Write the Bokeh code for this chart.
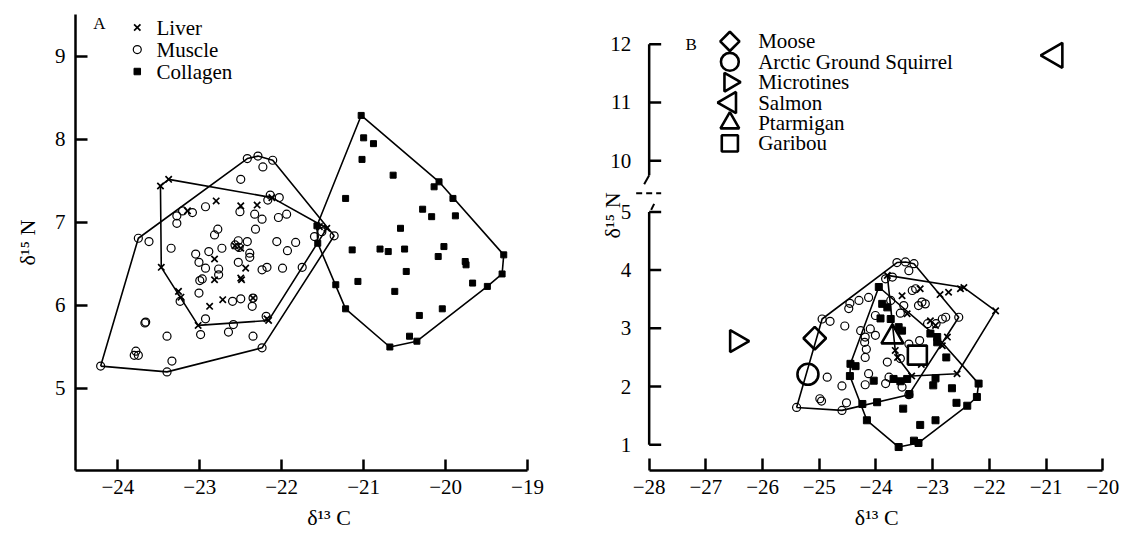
import math
from bokeh.plotting import figure
from bokeh.models import Range1d, FixedTicker, Title
from bokeh.layouts import row
from bokeh.embed import file_html
from bokeh.resources import INLINE
from bokeh.core.properties import value

FONT = "Liberation Serif"
MINUS = "\u2212"

# ---------------- Panel A data (delta13C, delta15N) ----------------
liver_a_x = [-23.48, -23.38, -23.15, -22.80, -22.50, -22.30, -22.12, -21.54, -21.45, -22.57,
             -22.50, -22.82, -23.47, -22.44, -22.82, -22.49, -22.50, -23.26, -23.23, -22.88,
             -22.72, -22.35, -23.02, -22.18, -22.16]
liver_a_y = [7.44, 7.52, 7.14, 7.26, 7.20, 7.21, 7.30, 6.95, 6.93, 6.72,
             6.69, 6.56, 6.46, 6.45, 6.31, 6.31, 6.33, 6.17, 6.10, 5.99,
             6.07, 6.09, 5.76, 5.84, 5.82]

muscle_a_x = [-22.42, -22.29, -22.11, -22.23, -22.50, -22.14, -22.03, -22.17, -22.93, -23.21,
              -23.09, -23.28, -23.28, -22.51, -22.33, -22.24, -22.04, -21.94, -22.32, -22.78,
              -22.82, -23.75, -23.62, -23.35, -22.73, -22.53, -22.42, -22.57, -22.52, -22.39,
              -22.39, -22.06, -21.93, -23.05, -22.89, -23.01, -22.93, -22.77, -22.53, -22.18,
              -21.99, -22.24, -21.75, -23.00, -22.97, -22.77, -23.01, -23.24, -22.60, -22.50,
              -22.36, -22.35, -22.93, -22.59, -22.65, -22.99, -22.35, -22.19, -23.67, -23.66,
              -23.40, -23.78, -23.80, -23.75, -23.34, -24.21, -23.40, -22.24, -21.83, -21.60,
              -21.51, -21.36]
muscle_a_y = [7.77, 7.80, 7.75, 7.67, 7.52, 7.33, 7.30, 7.27, 7.19, 7.14,
              7.12, 7.08, 6.99, 7.13, 7.10, 7.04, 7.06, 7.10, 6.92, 6.92,
              6.85, 6.81, 6.77, 6.69, 6.69, 6.78, 6.77, 6.73, 6.70, 6.63,
              6.58, 6.77, 6.66, 6.62, 6.65, 6.52, 6.45, 6.44, 6.52, 6.46,
              6.45, 6.43, 6.46, 6.30, 6.32, 6.37, 6.15, 6.05, 6.05, 6.08,
              5.99, 6.09, 5.84, 5.77, 5.68, 5.65, 5.63, 5.87, 5.79, 5.80,
              5.63, 5.45, 5.40, 5.40, 5.33, 5.27, 5.20, 5.49, 6.76, 6.83,
              6.89, 6.84]

collagen_a_x = [-21.03, -21.00, -20.88, -21.02, -20.64, -21.22, -20.08, -20.14, -19.91, -20.28,
                -20.17, -19.88, -20.55, -21.14, -20.80, -20.70, -20.50, -20.02, -20.09, -19.76,
                -19.75, -19.29, -19.31, -20.48, -21.57, -21.56, -21.34, -21.07, -20.62, -21.22,
                -20.32, -20.04, -19.67, -19.49, -20.44, -20.35, -20.68]
collagen_a_y = [8.29, 8.02, 7.95, 7.76, 7.57, 7.29, 7.49, 7.43, 7.29, 7.16,
                7.07, 7.08, 6.93, 6.67, 6.68, 6.65, 6.68, 6.71, 6.59, 6.53,
                6.49, 6.61, 6.38, 6.41, 6.96, 6.75, 6.25, 6.29, 6.17, 5.96,
                5.88, 5.96, 6.27, 6.23, 5.63, 5.57, 5.50]

# ---------------- Panel B data ----------------
liver_b_x = [-23.80, -23.54, -23.22, -22.87, -22.72, -22.51, -22.45, -21.89, -23.04, -22.95,
             -22.74, -22.83, -23.66, -23.62, -22.57, -23.37, -23.20, -23.45]
liver_b_y = [3.91, 3.56, 3.68, 3.58, 3.62, 3.68, 3.70, 3.30, 3.13, 3.05,
             2.85, 2.70, 2.62, 2.50, 2.22, 2.18, 2.38, 3.25]

muscle_b_x = [-23.63, -23.48, -23.33, -23.42, -23.71, -23.83, -24.95, -24.81, -24.55, -24.48,
              -24.46, -24.30, -24.13, -24.01, -24.27, -24.19, -24.10, -24.01, -23.36, -23.30,
              -23.19, -23.13, -23.25, -23.51, -23.74, -22.83, -22.77, -22.54, -23.57, -23.09,
              -22.94, -23.42, -23.23, -24.20, -24.17, -24.86, -24.60, -24.99, -24.96, -24.52,
              -24.60, -25.40, -24.19, -24.13, -24.19, -23.80, -23.77, -23.83, -23.57, -23.54,
              -23.42]
muscle_b_y = [4.13, 4.14, 4.11, 3.99, 3.88, 3.85, 3.16, 3.12, 3.04, 3.34,
              3.43, 3.48, 3.53, 3.22, 2.96, 2.85, 2.99, 2.88, 3.65, 3.68,
              3.45, 3.42, 3.39, 3.39, 3.48, 3.16, 3.19, 3.19, 3.26, 3.08,
              3.08, 2.73, 2.79, 2.76, 2.64, 2.16, 2.01, 1.79, 1.75, 1.72,
              1.59, 1.64, 2.50, 2.22, 2.03, 2.42, 2.16, 2.05, 2.48, 1.99,
              1.86]

collagen_b_x = [-23.95, -23.89, -23.80, -23.92, -23.74, -23.60, -23.54, -23.04, -22.92, -22.92,
                -22.76, -24.45, -24.36, -24.46, -24.04, -23.69, -23.57, -23.45, -23.41, -23.52,
                -24.24, -23.98, -24.16, -23.60, -23.33, -23.25, -23.22, -22.95, -22.99, -22.95,
                -22.66, -22.58, -22.39, -22.22, -22.19]
collagen_b_y = [3.71, 3.42, 3.36, 3.17, 3.16, 3.02, 2.96, 2.91, 2.85, 2.76,
                2.50, 2.39, 2.35, 2.18, 2.10, 2.13, 2.09, 2.13, 1.87, 1.62,
                1.70, 1.73, 1.42, 0.96, 1.07, 1.03, 1.34, 1.42, 2.02, 2.14,
                1.97, 1.72, 1.67, 1.82, 2.05]

species = ["Moose", "Arctic Ground Squirrel", "Microtines", "Salmon", "Ptarmigan", "Garibou"]
species_x = [-25.08, -25.20, -26.46, -20.84, -23.71, -23.27]
species_y = [2.83, 2.21, 2.78, 11.81, 2.85, 2.54]

tissues = ["Liver", "Muscle", "Collagen"]

xticks_a = [-24, -23, -22, -21, -20, -19]
yticks_a = [5, 6, 7, 8, 9]
xticks_b = [-28, -27, -26, -25, -24, -23, -22, -21, -20]
yticks_b = [1, 2, 3, 4, 5, 10, 11, 12]

x_title = "\u03b4\u00b9\u00b3 C"
y_title = "\u03b4\u00b9\u2075 N"

# ---------------- styles / layout ----------------
species_marker = ["square", "circle", "triangle", "triangle", "triangle", "square"]
species_angle = [math.pi / 4, 0.0, -math.pi / 2, math.pi / 2, 0.0, 0.0]
species_size = [16, 21, 22, 25, 22, 19]

B_SHIFT = 4.12      # vertical shift applied above the axis break
B_BREAK_LO = 5.0
B_BREAK_HI = 9.75

# em/en/thin spaces used to push a centred axis title to the right
PAD_A = "\u2003\u2003\u2002"
PAD_B = "\u2003\u2003\u2009"


def tb(v):
    return v if v < 7 else v - B_SHIFT


def fmt(t):
    return (MINUS + str(abs(t))) if t < 0 else str(t)


def hull(xs, ys):
    pts = sorted(set(zip(xs, ys)))

    def cross(o, a, b):
        return (a[0] - o[0]) * (b[1] - o[1]) - (a[1] - o[1]) * (b[0] - o[0])

    lower, upper = [], []
    for p in pts:
        while len(lower) >= 2 and cross(lower[-2], lower[-1], p) <= 0:
            lower.pop()
        lower.append(p)
    for p in reversed(pts):
        while len(upper) >= 2 and cross(upper[-2], upper[-1], p) <= 0:
            upper.pop()
        upper.append(p)
    h = lower[:-1] + upper[:-1]
    h.append(h[0])
    return [p[0] for p in h], [p[1] for p in h]


def style_axis(ax, tick_in=11):
    ax.axis_line_width = 2.5
    ax.axis_line_color = "black"
    ax.major_tick_line_width = 2.5
    ax.major_tick_line_color = "black"
    ax.major_tick_in = tick_in
    ax.major_tick_out = 0
    ax.minor_tick_line_color = None
    ax.major_label_text_font = FONT
    ax.major_label_text_font_size = "21px"
    ax.major_label_text_color = "black"


def base_fig(width, xr, yr, left, right, **kw):
    p = figure(width=width, height=536, x_range=Range1d(*xr), y_range=Range1d(*yr),
               output_backend="svg", toolbar_location=None,
               min_border_left=left, min_border_right=right,
               min_border_top=14, min_border_bottom=66, **kw)
    p.grid.visible = False
    p.outline_line_color = None
    p.background_fill_color = "white"
    p.border_fill_color = "white"
    return p


def make_title(text, offset, standoff):
    return Title(text=text, align="center", offset=offset, standoff=standoff,
                 text_font=FONT, text_font_size="22px", text_font_style="normal",
                 text_color="black")


def draw_points(p, lx, ly, mx, my, cx, cy, sq=6):
    p.scatter(cx, cy, marker="square", size=sq, fill_color="black", line_color="black")
    p.scatter(mx, my, marker="circle", size=8, fill_color=None, line_color="black", line_width=1.2)
    p.scatter(lx, ly, marker="x", size=9, line_color="black", line_width=1.7)


def draw_hulls(p, groups):
    for gx, gy in groups:
        hx, hy = hull(gx, gy)
        p.line(hx, hy, line_color="black", line_width=1.6)


# ================= Panel A =================
pA = base_fig(575, (-24.517, -19.0), (4.012, 9.506), 73, 48)
style_axis(pA.xaxis[0], 11)
style_axis(pA.yaxis[0], 12)
pA.xaxis.ticker = FixedTicker(ticks=xticks_a)
pA.xaxis.major_label_overrides = {t: fmt(t) for t in xticks_a}
pA.xaxis.major_label_standoff = 9
pA.yaxis.ticker = FixedTicker(ticks=yticks_a)
pA.yaxis.major_label_overrides = {t: fmt(t) for t in yticks_a}
pA.yaxis.major_label_standoff = 10

draw_points(pA, liver_a_x, liver_a_y, muscle_a_x, muscle_a_y, collagen_a_x, collagen_a_y, sq=6)
draw_hulls(pA, [(liver_a_x, liver_a_y), (muscle_a_x, muscle_a_y), (collagen_a_x, collagen_a_y)])

# legend A (manual)
leg_a_mx, leg_a_tx, leg_a_y0, leg_a_dy = -23.763, -23.528, 9.349, 0.265
rows_a = [leg_a_y0 - i * leg_a_dy for i in range(3)]
pA.scatter([leg_a_mx], [rows_a[0]], marker="x", size=9, line_color="black", line_width=1.7)
pA.scatter([leg_a_mx], [rows_a[1]], marker="circle", size=8, fill_color=None, line_color="black", line_width=1.2)
pA.scatter([leg_a_mx], [rows_a[2]], marker="square", size=6.5, fill_color="black", line_color="black")
pA.text(x=[leg_a_tx] * 3, y=rows_a, text=tissues, text_font=value(FONT),
        text_font_size=value("21px"), text_baseline="middle", text_align="left", text_color="black")
pA.text(x=[-24.30], y=[9.40], text=["A"], text_font=value(FONT), text_font_size=value("17px"),
        text_baseline="middle", text_align="left", text_color="black")

pA.add_layout(make_title(PAD_A + x_title, 0, 13), "below")
pA.add_layout(make_title(y_title, 19, 24), "left")

# ================= Panel B =================
xb0, xb1 = -28.929, -19.899
yb0, yb1 = 0.557, 8.392
FW_B, FH_B = 512, 456
pB = base_fig(559, (xb0, xb1), (yb0, yb1), 21, 26, y_axis_location=None)
style_axis(pB.xaxis[0], 12)
pB.xaxis.ticker = FixedTicker(ticks=xticks_b)
pB.xaxis.major_label_overrides = {t: fmt(t) for t in xticks_b}
pB.xaxis.major_label_standoff = 9
pB.xaxis.bounds = (xticks_b[0], xticks_b[-1])
pB.add_layout(make_title(PAD_B + x_title, 0, 13), "below")

px_per_x = FW_B / (xb1 - xb0)
px_per_y = FH_B / (yb1 - yb0)

# broken y axis: spine, inward ticks, labels, title
yb_t = [tb(v) for v in yticks_b]
spine_x = xticks_b[0]
tick_len = 12 / px_per_x
pB.segment(x0=[spine_x, spine_x], y0=[yticks_b[0], tb(B_BREAK_HI)],
           x1=[spine_x, spine_x], y1=[B_BREAK_LO, tb(yticks_b[-1])],
           line_color="black", line_width=2.5)
pB.segment(x0=[spine_x] * len(yb_t), y0=yb_t, x1=[spine_x + tick_len] * len(yb_t), y1=yb_t,
           line_color="black", line_width=2.5)
pB.text(x=[spine_x - 18 / px_per_x] * len(yb_t), y=yb_t, text=[str(v) for v in yticks_b],
        text_font=value(FONT), text_font_size=value("21px"), text_align="right",
        text_baseline="middle", text_color="black")
pB.text(x=[spine_x - 37 / px_per_x], y=[4.94], text=[y_title], angle=math.pi / 2,
        text_font=value(FONT), text_font_size=value("22px"), text_align="center",
        text_baseline="middle", text_color="black")
# break marks
hb = tb(B_BREAK_HI)
pB.segment(x0=[spine_x], y0=[hb], x1=[spine_x - 5 / px_per_x], y1=[hb - 9 / px_per_y],
           line_color="black", line_width=2)
pB.segment(x0=[spine_x - 13 / px_per_x], y0=[hb - 18 / px_per_y],
           x1=[spine_x + 12 / px_per_x], y1=[hb - 18 / px_per_y],
           line_color="black", line_width=2, line_dash="6 4")
pB.segment(x0=[spine_x + 2 / px_per_x], y0=[B_BREAK_LO + 2 / px_per_y],
           x1=[spine_x + 5 / px_per_x], y1=[B_BREAK_LO + 8 / px_per_y],
           line_color="black", line_width=2)

draw_points(pB, liver_b_x, liver_b_y, muscle_b_x, muscle_b_y, collagen_b_x, collagen_b_y, sq=7)

# species markers (white filled)
sp_y_t = [tb(v) for v in species_y]
for i in range(len(species)):
    pB.scatter([species_x[i]], [sp_y_t[i]], marker=species_marker[i], size=species_size[i],
               angle=species_angle[i], fill_color="white", line_color="black", line_width=2.6)

draw_hulls(pB, [(liver_b_x, liver_b_y), (muscle_b_x, muscle_b_y), (collagen_b_x, collagen_b_y)])

# legend B (manual, upper part of the broken axis)
leg_b_mx, leg_b_tx, leg_b_y0, leg_b_dy = -26.577, -26.078, 12.05, 0.3505
rows_b = [tb(leg_b_y0 - i * leg_b_dy) for i in range(len(species))]
for i in range(len(species)):
    pB.scatter([leg_b_mx], [rows_b[i]], marker=species_marker[i], size=species_size[i] * 0.85,
               angle=species_angle[i], fill_color="white", line_color="black", line_width=2.6)
pB.text(x=[leg_b_tx] * len(species), y=rows_b, text=species, text_font=value(FONT),
        text_font_size=value("21px"), text_baseline="middle", text_align="left", text_color="black")
pB.text(x=[-27.36], y=[tb(12.0)], text=["B"], text_font=value(FONT), text_font_size=value("17px"),
        text_baseline="middle", text_align="left", text_color="black")

layout = row(pA, pB, spacing=0)
open("out.html", "w").write(file_html(layout, INLINE))
